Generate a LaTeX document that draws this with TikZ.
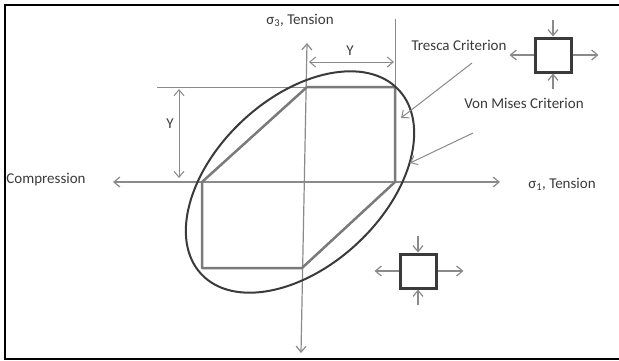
\documentclass[tikz,border=0pt]{standalone}
\usepackage{fontspec}
\setmainfont{Carlito}
\usetikzlibrary{arrows.meta,calc}
\definecolor{axisgray}{HTML}{8A8A8A}
\definecolor{hexgray}{HTML}{7A7A7A}
\definecolor{inkgray}{HTML}{3A3A3A}
\tikzset{barb/.style={-{Straight Barb[length=6pt,width=10pt]}},
  dblbarb/.style={{Straight Barb[length=6pt,width=10pt]}-{Straight Barb[length=6pt,width=10pt]}},
  element/.style={draw=inkgray, line width=3pt, fill=white, minimum width=36pt, minimum height=34pt, inner sep=0pt}}

\begin{document}
\begin{tikzpicture}[font=\fontsize{15}{18}\selectfont, x=1pt, y=-1pt, text=inkgray]
  \useasboundingbox (0,0) rectangle (619,360);
  % frame, open on the right
  \draw[line width=2pt] (625,5) -- (5,5) -- (5,359) -- (625,359);
  % principal stress axes
  \coordinate (s1neg) at (113,182); \coordinate (s1pos) at (500,182);
  \coordinate (s3pos) at (307,43);  \coordinate (s3neg) at (301,353);
  \draw[axisgray, line width=1.2pt, dblbarb] (s1neg) -- (s1pos);
  \draw[axisgray, line width=1.2pt, dblbarb] (s3pos) -- (s3neg);
  % guide lines and yield stress marks
  \draw[axisgray, line width=0.8pt] (395,19) -- (395,182);
  \draw[axisgray, line width=0.8pt] (157,87) -- (307,87);
  \draw[axisgray, line width=1pt, dblbarb] (309,62) -- (394,62);
  \draw[axisgray, line width=1pt, dblbarb] (179,89) -- (179,178);
  \node (ytop) at (350,51) {Y};
  \node (yleft) at (170,124) {Y};
  % Tresca hexagon and von Mises ellipse
  \draw[hexgray, line width=2.5pt, line join=round] (307,87) -- (395,87) -- (395,182) -- (302,268) -- (202,268) -- (202,182) -- cycle;
  \draw[inkgray, line width=2pt, rotate around={43:(300,182)}] (300,182) ellipse (135 and 84);
  % labels
  \node (comp) at (46,180) {Compression};
  \node (s1) at (562,184) {σ\textsubscript{1}, Tension};
  \node (s3) at (300,20) {σ\textsubscript{3}, Tension};
  \node (tresca) at (459,45) {Tresca Criterion};
  \node (mises) at (524,103) {Von Mises Criterion};
  \coordinate (trtail) at (472,63); \coordinate (trtip) at (401,118);
  \coordinate (vmtail) at (473,133); \coordinate (vmtip) at (410,163);
  \draw[axisgray, line width=1pt, barb] (trtail) -- (trtip);
  \draw[axisgray, line width=1pt, barb] (vmtail) -- (vmtip);
  % stress elements: tension sideways, compression from top and bottom
  \foreach \n/\x/\y in {elem1/553/55, elem2/418/271}{
    \node[element] (\n) at (\x,\y) {};
    \draw[axisgray, line width=1.2pt, barb] (\n.west) -- ($(\n.west)+(-24,0)$);
    \draw[axisgray, line width=1.2pt, barb] (\n.east) -- ($(\n.east)+(26,0)$);
    \draw[axisgray, line width=1.2pt, barb] ($(\n.north)+(0,-17)$) -- (\n.north);
    \draw[axisgray, line width=1.2pt, barb] ($(\n.south)+(0,15)$) -- (\n.south);}
\end{tikzpicture}
\end{document}
